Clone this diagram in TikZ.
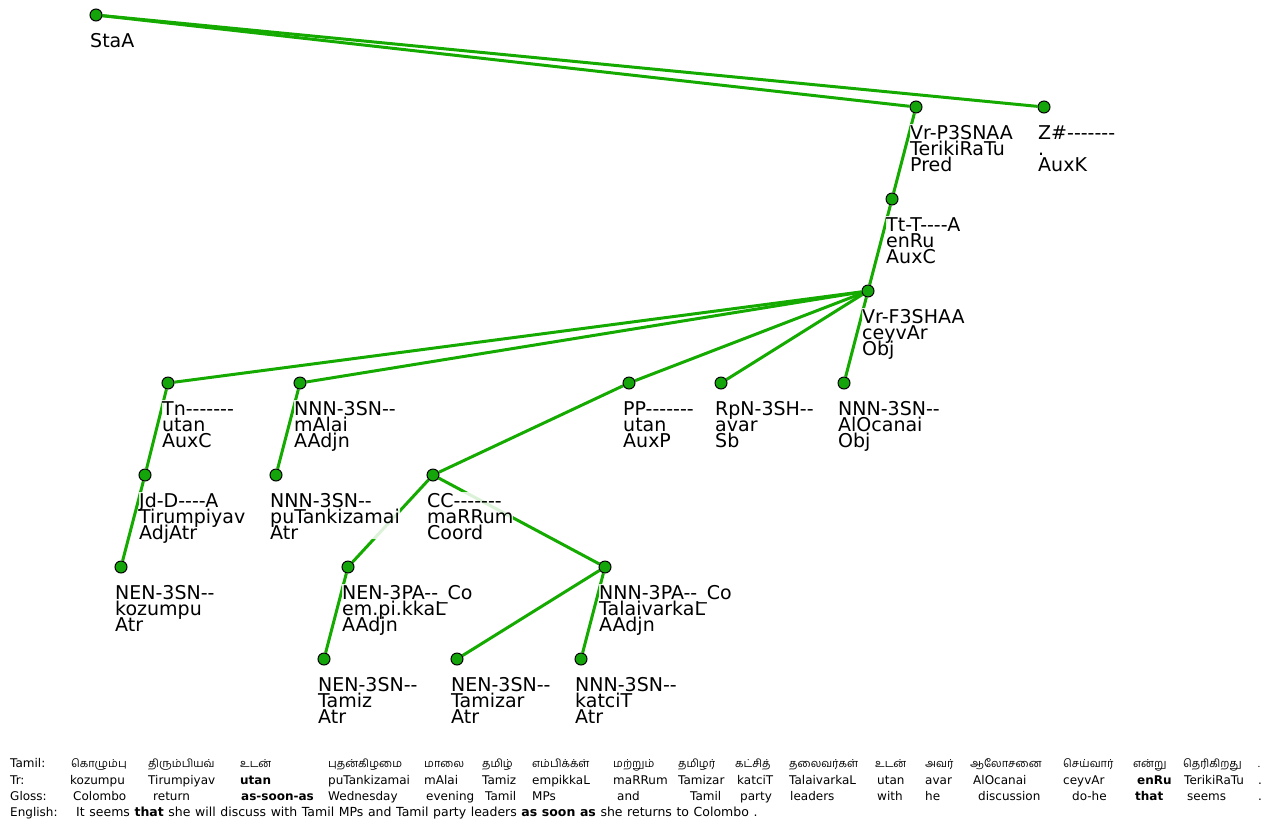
\documentclass[tikz,border=0pt]{standalone}
\usepackage{fontspec}
\setmainfont{DejaVu Sans}
% plain family without TeX ligatures, so that "--" stays two hyphens
\newfontfamily\dejavu{DejaVu Sans}
\newfontfamily\tamilfont[Script=Tamil]{Hind Madurai}
\definecolor{edgegreen}{RGB}{20,170,0}
\definecolor{dotgreen}{RGB}{20,165,10}
\pgfdeclarelayer{edges}
\pgfdeclarelayer{labels}
\pgfsetlayers{edges,labels,main}
% three-line tree label: tag, form, function
\newcommand\tlab[3]{\rule{0pt}{15pt}#1\\#2\\#3}
\begin{document}
\lineskiplimit=-30pt
\begin{tikzpicture}[x=1pt,y=-1pt,
  dot/.style={circle,draw=black,line width=1pt,fill=dotgreen,minimum size=12pt,inner sep=0pt},
  edge/.style={draw=edgegreen,line width=3pt},
  lab/.style={anchor=north west,inner sep=0pt,align=left,fill=white,fill opacity=0.85,text opacity=1,
    font={\dejavu\fontsize{19}{16}\selectfont}},
  row/.style={anchor=base west,inner sep=0pt,font={\dejavu\fontsize{12}{14}\selectfont}},
  sentence/.style={anchor=base west,inner sep=0pt,font={\dejavu\fontsize{12.5}{14}\selectfont\spaceskip=4.6pt\relax}},
  trow/.style={anchor=base west,inner sep=0pt,font={\tamilfont\fontsize{11}{13}\selectfont}}]
\useasboundingbox (0,0) rectangle (1276,823);

% tree nodes
\node[dot] (sta) at (96,15) {};
\node[dot] (pred) at (916,107) {};
\node[dot] (auxk) at (1044,107) {};
\node[dot] (enru) at (892,199) {};
\node[dot] (ceyv) at (868,291) {};
\node[dot] (tn) at (168,383) {};
\node[dot] (malai) at (300,383) {};
\node[dot] (pp) at (629,383) {};
\node[dot] (avar) at (721,383) {};
\node[dot] (alo) at (844,383) {};
\node[dot] (jd) at (145,475) {};
\node[dot] (putan) at (276,475) {};
\node[dot] (cc) at (433,475) {};
\node[dot] (kozu) at (121,567) {};
\node[dot] (empi) at (348,567) {};
\node[dot] (talai) at (605,567) {};
\node[dot] (tamiz) at (324,659) {};
\node[dot] (tamizar) at (457,659) {};
\node[dot] (katci) at (581,659) {};

% connectors
\begin{pgfonlayer}{edges}
\draw[edge] (sta) -- (pred);
\draw[edge] (sta) -- (auxk);
\draw[edge] (pred) -- (enru);
\draw[edge] (enru) -- (ceyv);
\draw[edge] (ceyv) -- (tn);
\draw[edge] (ceyv) -- (malai);
\draw[edge] (ceyv) -- (pp);
\draw[edge] (ceyv) -- (avar);
\draw[edge] (ceyv) -- (alo);
\draw[edge] (tn) -- (jd);
\draw[edge] (jd) -- (kozu);
\draw[edge] (malai) -- (putan);
\draw[edge] (pp) -- (cc);
\draw[edge] (cc) -- (empi);
\draw[edge] (cc) -- (talai);
\draw[edge] (empi) -- (tamiz);
\draw[edge] (talai) -- (tamizar);
\draw[edge] (talai) -- (katci);
\end{pgfonlayer}

% node labels
\begin{pgfonlayer}{labels}
\node[lab] (sta-l) at ([shift={(-6,17)}]sta.center) {\rule{0pt}{15pt}StaA};
\node[lab] (pred-l) at ([shift={(-6,17)}]pred.center) {\tlab{Vr-P3SNAA}{TerikiRaTu}{Pred}};
\node[lab] (auxk-l) at ([shift={(-6,17)}]auxk.center) {\tlab{Z\#-------}{.}{AuxK}};
\node[lab] (enru-l) at ([shift={(-6,17)}]enru.center) {\tlab{Tt-T----A}{enRu}{AuxC}};
\node[lab] (ceyv-l) at ([shift={(-6,17)}]ceyv.center) {\tlab{Vr-F3SHAA}{ceyvAr}{Obj}};
\node[lab] (tn-l) at ([shift={(-6,17)}]tn.center) {\tlab{Tn-------}{utan}{AuxC}};
\node[lab] (malai-l) at ([shift={(-6,17)}]malai.center) {\tlab{NNN-3SN--}{mAlai}{AAdjn}};
\node[lab] (pp-l) at ([shift={(-6,17)}]pp.center) {\tlab{PP-------}{utan}{AuxP}};
\node[lab] (avar-l) at ([shift={(-6,17)}]avar.center) {\tlab{RpN-3SH--}{avar}{Sb}};
\node[lab] (alo-l) at ([shift={(-6,17)}]alo.center) {\tlab{NNN-3SN--}{AlOcanai}{Obj}};
\node[lab] (jd-l) at ([shift={(-6,17)}]jd.center) {\tlab{Jd-D----A}{Tirumpiyav}{AdjAtr}};
\node[lab] (putan-l) at ([shift={(-6,17)}]putan.center) {\tlab{NNN-3SN--}{puTankizamai}{Atr}};
\node[lab] (cc-l) at ([shift={(-6,17)}]cc.center) {\tlab{CC-------}{maRRum}{Coord}};
\node[lab] (kozu-l) at ([shift={(-6,17)}]kozu.center) {\tlab{NEN-3SN--}{kozumpu}{Atr}};
\node[lab] (empi-l) at ([shift={(-6,17)}]empi.center) {\tlab{NEN-3PA--\_Co}{em.pi.kkaL}{AAdjn}};
\node[lab] (talai-l) at ([shift={(-6,17)}]talai.center) {\tlab{NNN-3PA--\_Co}{TalaivarkaL}{AAdjn}};
\node[lab] (tamiz-l) at ([shift={(-6,17)}]tamiz.center) {\tlab{NEN-3SN--}{Tamiz}{Atr}};
\node[lab] (tamizar-l) at ([shift={(-6,17)}]tamizar.center) {\tlab{NEN-3SN--}{Tamizar}{Atr}};
\node[lab] (katci-l) at ([shift={(-6,17)}]katci.center) {\tlab{NNN-3SN--}{katciT}{Atr}};
\end{pgfonlayer}

% interlinear glosses
\node[row] (h-ta) at (10,767.5) {Tamil:};
\node[row] (h-tr) at (10,784.5) {Tr:};
\node[row] (h-gl) at (10,800.5) {Gloss:};
\node[row] (h-en) at (10,816) {English:};

\foreach \x/\w [count=\i] in {71/கொழும்பு, 148/திரும்பியவ், 240/உடன், 328/புதன்கிழமை, 424/மாலை,
  482/தமிழ், 532/எம்பிக்க்ள், 613/மற்றும், 678/தமிழர், 735/கட்சித், 789/தலைவர்கள், 875/உடன்,
  925/அவர், 970/ஆலோசனை, 1063/செய்வார், 1133/என்று, 1183/தெரிகிறது, 1258/.}
  \node[trow] (ta\i) at (\x,767.5) {\w};

\foreach \x/\w [count=\i] in {70/kozumpu, 148/Tirumpiyav, 240/{\textbf{utan}}, 328/puTankizamai,
  424/mAlai, 482/Tamiz, 532/empikkaL, 613/maRRum, 678/Tamizar, 737/katciT, 789/TalaivarkaL,
  877/utan, 925/avar, 973/AlOcanai, 1063/ceyvAr, 1137/{\textbf{enRu}}, 1184/TerikiRaTu, 1258/.}
  \node[row] (tr\i) at (\x,784.5) {\w};

\foreach \x/\w [count=\i] in {73/Colombo, 153/return, 241/{\textbf{as-soon-as}}, 328/Wednesday,
  426/evening, 485/Tamil, 532/MPs, 617/and, 690/Tamil, 740/party, 790/leaders,
  877/with, 925/he, 978/discussion, 1072/do-he, 1135/{\textbf{that}}, 1187/seems, 1258/.}
  \node[row] (gl\i) at (\x,800.5) {\w};

\node[sentence] (en) at (76,816) {It seems \textbf{that} she will discuss with Tamil MPs and Tamil party leaders \textbf{as soon as} she returns to Colombo .};
\end{tikzpicture}
\end{document}
